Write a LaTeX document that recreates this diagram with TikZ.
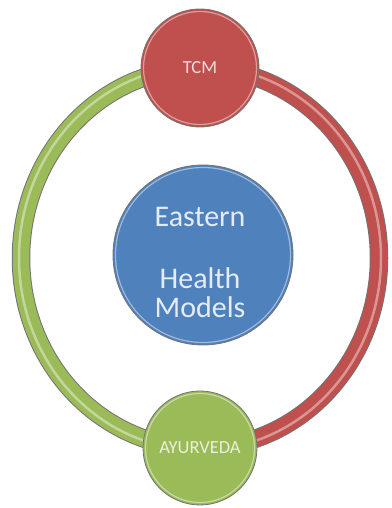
\documentclass[tikz,border=0pt]{standalone}
\usepackage{fontspec}
\setsansfont{Carlito}
\RequirePackage{xcolor}
\tikzset{every picture/.style={/utils/exec={\sffamily}}}
\usetikzlibrary{calc}
\usetikzlibrary{backgrounds}

\definecolor{tcmred}{HTML}{C0504D}
\definecolor{ayugreen}{HTML}{9BBB59}
\definecolor{coreblue}{HTML}{4F81BD}

\tikzset{
  ball/.style={circle, draw=black!55, line width=0.8pt, inner sep=0pt},
  rim/.style={draw=white, opacity=0.45, line width=1.2pt},
  bandedge/.style={draw=black!55, line width=18.5pt},
  band/.style={draw=#1, line width=16.5pt},
  gloss/.style={draw=white, opacity=0.4, line width=2.5pt},
  ballfont/.style={font=\fontsize{18.5}{21}\selectfont},
  corefont/.style={font=\fontsize{30}{36}\selectfont, text=white!85!coreblue, anchor=base, inner sep=0pt}
}

\begin{document}
\begin{tikzpicture}[x=1pt,y=1pt]
  \useasboundingbox (0,0) rectangle (391,508);

  \node (core) at (203,253) [ball, fill=coreblue, minimum size=180pt] {};
  \node (eastern) at (200,281) [corefont] {Eastern};
  \node (health) at (200,219) [corefont] {Health};
  \node (models) at (200,190) [corefont] {Models};

  \node (tcm) at (200,440) [ball, fill=tcmred, minimum size=118pt, ballfont, text=white!80!tcmred] {TCM};
  \node (ayurveda) at (200,60) [ball, fill=ayugreen, minimum size=114pt, ballfont, text=white!78!ayugreen] {AYURVEDA};

  \draw [rim] (core.center) circle (87.5);
  \draw [rim] (tcm.center) circle (56.5);
  \draw [rim] (ayurveda.center) circle (54.5);

  \begin{scope}[on background layer]
    % left half, tcm to ayurveda
    \draw [bandedge] (tcm.center) arc [start angle=90, end angle=270, x radius=179, y radius=190];
    \draw [band=ayugreen] (tcm.center) arc [start angle=90, end angle=270, x radius=179, y radius=190];
    \draw [gloss] ($(tcm.center)+(0,2)$) arc [start angle=90, end angle=270, x radius=181, y radius=192];
    % right half, ayurveda to tcm
    \draw [bandedge] (ayurveda.center) arc [start angle=270, end angle=450, x radius=179, y radius=190];
    \draw [band=tcmred] (ayurveda.center) arc [start angle=270, end angle=450, x radius=179, y radius=190];
    \draw [gloss] ($(ayurveda.center)+(0,-2)$) arc [start angle=270, end angle=450, x radius=181, y radius=192];
  \end{scope}
\end{tikzpicture}
\end{document}
